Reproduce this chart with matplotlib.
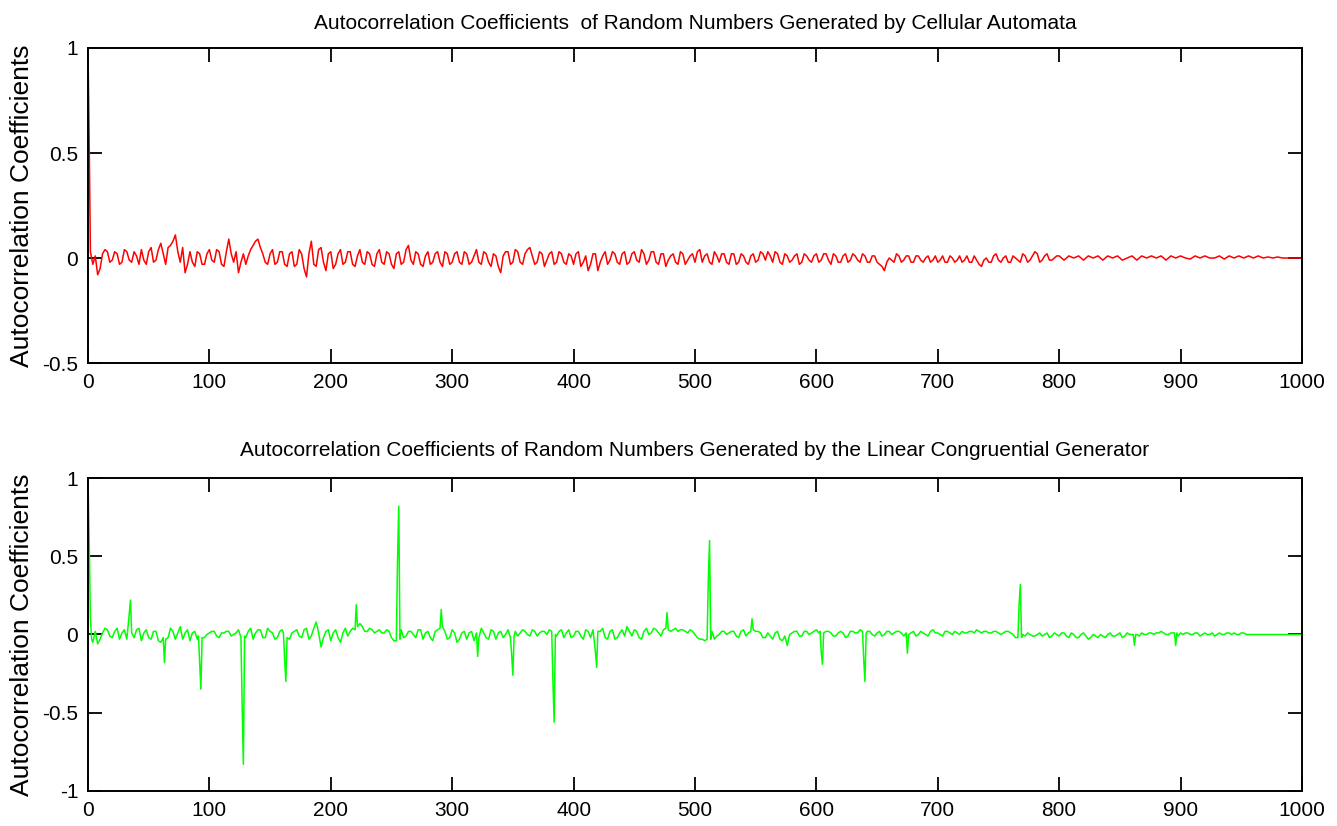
import numpy as np
import matplotlib
matplotlib.use('Agg')
import matplotlib.pyplot as plt

plt.rcParams['font.family'] = ['Liberation Sans', 'DejaVu Sans']
plt.rcParams['axes.unicode_minus'] = False

# Autocorrelacao - automato celular
ca_first_lags = [0, 1, 2]
ca_first_vals = [1.0, 0.55, 0.03]
# lags 4, 8, ..., 1000
ca_lags = list(range(4, 1001, 4))
ca_vals = [
    -0.03, -0.08, 0.02, 0.03, -0.01, 0.02, -0.02, 0.03, -0.02, 0.01,
    0.04, -0.03, 0.05, -0.01, 0.07, -0.03, 0.06, 0.11, -0.02, -0.07,
    0.03, -0.04, 0.02, -0.03, 0.04, -0.02, 0.03, -0.04, 0.09, -0.02,
    -0.07, 0.02, 0.01, 0.06, 0.09, 0.02, -0.03, 0.04, -0.02, 0.03,
    -0.04, 0.03, -0.03, 0.02, -0.09, 0.08, -0.04, 0.05, -0.06, 0.03,
    -0.03, 0.04, -0.02, 0.03, -0.04, 0.04, -0.03, 0.02, -0.04, 0.04,
    -0.03, 0.02, -0.05, 0.03, -0.02, 0.06, -0.03, 0.02, -0.04, 0.03,
    -0.02, 0.03, -0.04, 0.02, -0.02, 0.03, -0.03, 0.02, -0.02, 0.04,
    -0.03, 0.02, -0.04, 0.01, -0.07, 0.03, -0.03, 0.04, -0.02, 0.02,
    0.05, -0.03, 0.03, -0.04, 0.02, -0.03, 0.03, -0.02, 0.02, -0.03,
    0.03, -0.02, -0.06, 0.02, -0.06, 0.01, -0.03, 0.03, -0.02, 0.02,
    -0.03, 0.02, -0.01, 0.04, -0.03, 0.03, -0.02, 0.02, -0.04, 0.01,
    -0.02, 0.03, -0.03, 0.01, -0.02, 0.04, 0.01, -0.02, 0.03, -0.02,
    0.02, -0.03, 0.02, -0.02, 0.01, -0.03, 0.02, -0.01, 0.02, 0.03,
    -0.02, 0.02, -0.03, 0.01, -0.01, 0.02, -0.02, 0.01, -0.02, 0.02,
    -0.01, 0.02, -0.03, 0.01, -0.02, 0.02, -0.01, 0.01, -0.02, 0.01,
    -0.02, 0.01, -0.03, -0.06, 0.00, -0.02, 0.01, -0.01, 0.01, -0.02,
    0.01, -0.02, 0.01, -0.01, -0.02, 0.01, -0.02, 0.00, -0.01, -0.02,
    0.01, -0.02, -0.01, -0.04, 0.00, -0.02, 0.02, -0.02, 0.01, -0.02,
    0.00, -0.02, 0.01, -0.01, 0.03, -0.02, 0.01, -0.01, 0.00, 0.01,
    -0.01, 0.01, 0.00, 0.01, -0.01, 0.01, 0.00, 0.01, -0.01, 0.01,
    0.00, 0.01, -0.01, 0.00, 0.01, -0.01, 0.01, 0.00, 0.01, 0.00,
    0.01, -0.01, 0.01, 0.00, 0.01, 0.00, -0.005, 0.01, 0.00, 0.01,
    0.00, 0.00, 0.01, -0.005, 0.01, 0.00, 0.01, 0.00, 0.01, 0.00,
    0.01, 0.00, 0.005, 0.00, 0.005, 0.00, 0.00, 0.00, 0.00, 0.00,
]
# lags 6, 10, ..., 798
ca_mid_lags = list(range(6, 799, 4))
ca_mid_vals = [
    0.01, -0.05, 0.04, -0.02, 0.03, -0.03, 0.04, -0.01, 0.03, -0.03,
    -0.01, 0.03, -0.02, 0.04, 0.02, 0.05, 0.08, 0.03, 0.05, -0.03,
    -0.02, 0.03, -0.03, 0.02, -0.01, 0.04, -0.03, 0.03, 0.02, 0.03,
    -0.02, -0.03, 0.04, 0.08, 0.05, -0.02, 0.02, -0.03, 0.03, -0.03,
    0.02, -0.04, 0.04, -0.05, 0.02, -0.03, 0.04, -0.02, 0.02, -0.05,
    0.02, -0.03, 0.03, -0.03, 0.01, -0.02, 0.03, -0.03, 0.02, -0.02,
    0.03, -0.03, 0.02, -0.03, 0.04, -0.01, 0.03, -0.03, 0.01, -0.03,
    0.02, -0.02, 0.03, -0.03, 0.02, -0.02, 0.03, -0.03, 0.01, -0.02,
    0.03, -0.02, 0.02, -0.04, 0.01, 0.03, -0.02, 0.03, -0.03, 0.04,
    0.01, -0.02, 0.02, -0.01, 0.03, -0.02, 0.02, -0.03, 0.01, 0.02,
    -0.04, 0.01, -0.03, 0.02, -0.02, 0.03, -0.01, 0.02, -0.03, 0.03,
    -0.02, 0.03, -0.02, 0.02, -0.01, 0.03, -0.03, 0.02, -0.01, 0.02,
    -0.03, 0.02, -0.01, 0.02, 0.03, -0.02, 0.02, -0.03, 0.01, 0.02,
    -0.02, 0.02, -0.03, 0.02, -0.02, 0.01, -0.02, 0.03, -0.01, 0.01,
    0.03, -0.02, 0.02, -0.02, 0.01, -0.03, 0.02, -0.01, 0.01, -0.02,
    0.02, -0.01, 0.02, -0.02, 0.01, -0.02, 0.02, -0.01, 0.02, -0.02,
    0.01, -0.02, -0.04, -0.02, -0.01, 0.02, -0.02, 0.01, -0.02, 0.01,
    -0.01, 0.00, -0.02, 0.01, -0.01, -0.02, 0.01, -0.02, 0.01, -0.01,
    -0.02, 0.01, -0.03, -0.01, -0.02, 0.01, -0.01, 0.00, -0.02, 0.01,
    -0.01, 0.02, -0.02, 0.01, 0.02, -0.01, 0.02, -0.01, 0.01,
]

# Autocorrelacao - gerador congruencial linear
lcg_first_lags = [0]
lcg_first_vals = [1.0]
# lags 4, 8, ..., 1000
lcg_lags = list(range(4, 1001, 4))
lcg_vals = [
    -0.05, -0.06, 0.01, 0.03, -0.02, 0.04, 0.01, -0.03, 0.01, 0.03,
    -0.04, 0.03, -0.03, 0.02, -0.05, -0.03, 0.04, -0.03, 0.05, 0.01,
    -0.04, 0.02, -0.02, -0.02, 0.01, 0.02, -0.02, 0.01, 0.02, 0.00,
    0.03, -0.01, 0.02, -0.03, 0.03, -0.02, 0.04, 0.01, -0.02, 0.03,
    -0.02, 0.01, 0.03, -0.02, 0.04, -0.01, 0.08, -0.08, 0.02, -0.04,
    0.03, -0.05, 0.04, 0.02, 0.05, 0.07, 0.02, 0.04, 0.01, 0.03,
    0.01, 0.02, -0.04, 0.00, -0.02, 0.02, 0.00, 0.03, -0.03, 0.02,
    -0.04, 0.03, 0.05, -0.03, 0.03, -0.05, 0.01, -0.03, 0.02, -0.01,
    0.04, -0.02, 0.03, -0.03, 0.02, 0.00, -0.02, 0.02, 0.01, 0.02,
    -0.01, 0.02, 0.01, 0.02, 0.03, 0.00, 0.02, -0.02, 0.03, -0.01,
    0.02, -0.03, 0.02, 0.03, 0.02, 0.04, -0.03, 0.03, -0.02, 0.03,
    0.05, -0.01, 0.02, -0.03, 0.04, 0.01, 0.03, -0.01, 0.04, 0.02,
    0.04, 0.03, 0.02, 0.03, 0.00, -0.03, -0.04, 0.00, -0.03, 0.00,
    0.02, 0.01, 0.02, -0.02, 0.03, 0.01, 0.03, 0.02, -0.02, 0.01,
    -0.03, 0.02, -0.04, -0.07, 0.01, 0.02, -0.01, 0.02, 0.01, 0.03,
    0.00, 0.02, 0.01, -0.01, 0.02, -0.02, 0.02, 0.01, 0.03, 0.00,
    0.02, -0.01, 0.02, 0.00, 0.02, 0.01, 0.02, -0.01, 0.00, 0.02,
    0.00, 0.01, -0.01, 0.03, 0.01, -0.01, 0.02, 0.00, 0.01, 0.02,
    0.01, 0.02, 0.03, 0.01, 0.02, 0.01, 0.02, 0.00, 0.02, 0.01,
    -0.02, 0.00, -0.01, 0.00, -0.01, 0.01, 0.00, -0.02, 0.01, -0.01,
    0.01, -0.02, 0.00, -0.02, 0.01, -0.03, 0.00, -0.02, -0.01, 0.00,
    -0.01, 0.00, -0.02, 0.01, 0.00, 0.00, 0.01, 0.00, 0.01, 0.01,
    0.02, 0.00, 0.01, 0.00, 0.01, 0.01, 0.00, 0.01, -0.01, 0.01,
    0.00, -0.01, 0.01, 0.00, 0.01, 0.01, 0.00, 0.01, 0.00, 0.00,
    0.00, 0.00, 0.00, 0.00, 0.00, 0.00, 0.00, 0.00, 0.00, 0.00,
]
# lags 6, 10, ..., 958
lcg_mid_lags = list(range(6, 959, 4))
lcg_mid_vals = [
    0.02, -0.03, 0.04, -0.01, 0.02, -0.03, 0.03, 0.02, -0.02, 0.04,
    0.01, -0.02, 0.02, -0.04, 0.01, -0.02, 0.02, 0.01, -0.03, 0.03,
    0.01, -0.03, 0.03, 0.00, 0.02, -0.01, 0.01, 0.02, -0.01, 0.01,
    0.01, -0.02, 0.04, 0.01, 0.03, -0.02, 0.02, -0.03, 0.02, 0.00,
    -0.03, 0.02, -0.01, 0.03, -0.03, 0.04, 0.01, -0.02, 0.03, 0.01,
    -0.02, 0.01, -0.01, 0.04, 0.03, 0.05, 0.02, 0.03, 0.02, 0.01,
    0.03, -0.02, 0.00, 0.03, -0.01, 0.02, -0.02, 0.03, 0.01, -0.02,
    0.02, 0.01, 0.02, -0.02, 0.01, -0.03, 0.02, 0.01, -0.04, 0.01,
    0.01, -0.03, 0.02, 0.01, -0.02, 0.03, 0.01, -0.01, 0.03, 0.00,
    0.03, -0.01, 0.02, 0.00, 0.02, -0.01, 0.03, 0.01, -0.02, 0.02,
    -0.01, 0.03, -0.02, 0.01, 0.02, -0.02, 0.02, -0.03, 0.01, -0.01,
    0.02, 0.03, -0.02, 0.02, 0.00, 0.04, 0.01, 0.03, 0.02, 0.03,
    0.02, 0.03, 0.01, 0.02, -0.02, -0.03, -0.02, 0.02, -0.01, 0.02,
    0.00, 0.02, -0.01, 0.02, -0.01, 0.03, 0.02, 0.01, -0.02, -0.01,
    0.01, -0.03, -0.01, 0.00, 0.02, -0.01, 0.02, 0.00, 0.02, 0.01,
    0.00, 0.02, -0.01, 0.01, 0.01, -0.01, 0.02, 0.01, 0.02, 0.02,
    0.00, 0.01, -0.01, 0.02, 0.00, 0.02, 0.01, 0.02, 0.01, -0.01,
    0.02, 0.00, 0.02, 0.01, 0.00, 0.02, 0.01, 0.02, 0.00, 0.01,
    0.02, 0.01, 0.02, 0.02, 0.01, 0.02, 0.01, 0.01, 0.02, 0.00,
    0.01, 0.00, 0.01, -0.01, 0.00, -0.01, 0.01, -0.01, 0.00, 0.01,
    -0.01, 0.01, -0.02, 0.00, -0.01, -0.02, -0.01, 0.00, -0.02, 0.01,
    -0.01, 0.01, -0.01, 0.00, 0.01, -0.01, 0.00, 0.01, 0.00, 0.01,
    0.01, 0.00, 0.01, -0.01, 0.00, 0.01, 0.00, 0.01, 0.00, 0.00,
    0.01, 0.00, 0.00, 0.01, 0.00, 0.00, 0.01, 0.00, 0.00,
]

# picos do LCG (lag, valor), com os vizinhos
lcg_spike_lags = [1, 2, 3, 34, 35, 36, 62, 63, 64, 91, 92, 93, 94,
                  126, 127, 128, 129, 161, 162, 163, 164, 220, 221, 222,
                  254, 255, 256, 257, 290, 291, 292, 320, 321, 322,
                  349, 350, 351, 382, 383, 384, 385, 418, 419, 420,
                  476, 477, 478, 510, 511, 512, 513, 546, 547, 548,
                  603, 604, 605, 606, 639, 640, 641, 674, 675, 676,
                  766, 767, 768, 769, 861, 862, 863, 895, 896, 897]
lcg_spike_vals = [0.61, 0.10, -0.03, 0.13, 0.22, 0.01, -0.02, -0.18, -0.03, -0.01, -0.18, -0.35, -0.02,
                  -0.02, -0.45, -0.83, -0.01, 0.01, -0.16, -0.30, -0.02, 0.03, 0.19, 0.05,
                  -0.04, 0.48, 0.82, -0.03, 0.04, 0.16, 0.05, 0.01, -0.14, -0.02,
                  -0.13, -0.26, -0.01, 0.02, -0.30, -0.56, 0.00, -0.11, -0.21, 0.02,
                  0.04, 0.14, 0.03, -0.03, 0.35, 0.60, -0.03, 0.02, 0.10, 0.03,
                  0.02, -0.11, -0.19, 0.01, -0.16, -0.30, 0.01, 0.01, -0.12, 0.00,
                  -0.02, 0.19, 0.32, -0.02, 0.00, -0.07, 0.00, 0.01, -0.07, 0.01]

ca = dict(zip(ca_lags, ca_vals))
ca.update(zip(ca_mid_lags, ca_mid_vals))
ca.update(zip(ca_first_lags, ca_first_vals))
ca_x = sorted(ca)
ca_y = [ca[k] for k in ca_x]

lcg = dict(zip(lcg_lags, lcg_vals))
lcg.update(zip(lcg_mid_lags, lcg_mid_vals))
lcg.update(zip(lcg_first_lags, lcg_first_vals))
lcg.update(zip(lcg_spike_lags, lcg_spike_vals))
lcg_x = sorted(lcg)
lcg_y = [lcg[k] for k in lcg_x]

fig = plt.figure(figsize=(13.37, 8.26), dpi=100)
ax1 = fig.add_axes([0.0658, 0.5605, 0.908, 0.3814])
ax2 = fig.add_axes([0.0658, 0.0424, 0.908, 0.3789])

fs = 15

ax1.plot(ca_x, ca_y, color='#FF0000', lw=1.1)
ax1.set_xlim(0, 1000)
ax1.set_ylim(-0.5, 1)
ax1.set_yticks([-0.5, 0, 0.5, 1])
ax1.set_yticklabels(['-0.5', '0', '0.5', '1'])
ax1.set_title('Autocorrelation Coefficients  of Random Numbers Generated by Cellular Automata', fontsize=fs, pad=14)
ax1.set_ylabel('Autocorrelation Coefficients', fontsize=19, labelpad=6)

ax2.plot(lcg_x, lcg_y, color='#00FF00', lw=1.1)
ax2.set_xlim(0, 1000)
ax2.set_ylim(-1, 1)
ax2.set_yticks([-1, -0.5, 0, 0.5, 1])
ax2.set_yticklabels(['-1', '-0.5', '0', '0.5', '1'])
ax2.set_title('Autocorrelation Coefficients of Random Numbers Generated by the Linear Congruential Generator', fontsize=fs, pad=16)
ax2.set_ylabel('Autocorrelation Coefficients', fontsize=19, labelpad=6)

for ax in (ax1, ax2):
    ax.set_xticks(range(0, 1001, 100))
    ax.tick_params(direction='in', length=10, width=1.3, top=True, right=True,
                   labelsize=fs, pad=7)
    for s in ax.spines.values():
        s.set_linewidth(1.4)

fig.savefig('out.png', dpi=100)
